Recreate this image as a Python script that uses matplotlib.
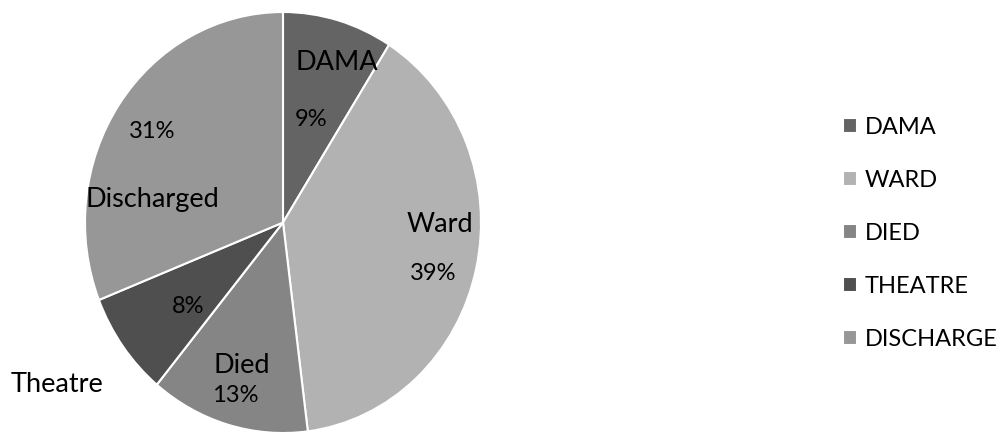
import matplotlib.pyplot as plt

plt.rcParams['font.family'] = ['Lato', 'DejaVu Sans']

# Data
slice_names = ['DAMA', 'Ward', 'Died', 'Theatre', 'Discharged']
legend_names = ['DAMA', 'WARD', 'DIED', 'THEATRE', 'DISCHARGE']
values = [9, 39, 13, 8, 31]
colors = ['#646464', '#b2b2b2', '#858585', '#4f4f4f', '#979797']

# label positions (axes data coords) for name / percentage
name_pos = [(0.27, 0.76), (0.79, -0.01), (-0.21, -0.68), (-1.14, -0.77), (-0.66, 0.11)]
pct_pos = [(0.14, 0.49), (0.76, -0.24), (-0.24, -0.82), (-0.48, -0.40), (-0.66, 0.43)]

fig = plt.figure(figsize=(10, 4.36), dpi=100)
ax = fig.add_axes([0.085, 3 / 436, 0.396, 421 / 436])

wedges, _ = ax.pie(values, colors=colors, startangle=90, counterclock=False,
                   radius=1, wedgeprops=dict(edgecolor='white', linewidth=1.5))
ax.set_aspect('auto')
ax.set_xlim(-1, 1)
ax.set_ylim(-1, 1)

for name, v, npos, ppos in zip(slice_names, values, name_pos, pct_pos):
    ax.text(npos[0], npos[1], name, ha='center', va='center', fontsize=19.5, color='#000000')
    ax.text(ppos[0], ppos[1], f'{v}%', ha='center', va='center', fontsize=17, color='#000000')

fig.legend(wedges, legend_names, loc='center left', bbox_to_anchor=(0.843, 0.465),
           frameon=False, fontsize=17, handlelength=0.59, handleheight=0.59,
           handletextpad=0.34, labelspacing=1.36, borderpad=0, borderaxespad=0)

plt.savefig('out.png', dpi=100)
